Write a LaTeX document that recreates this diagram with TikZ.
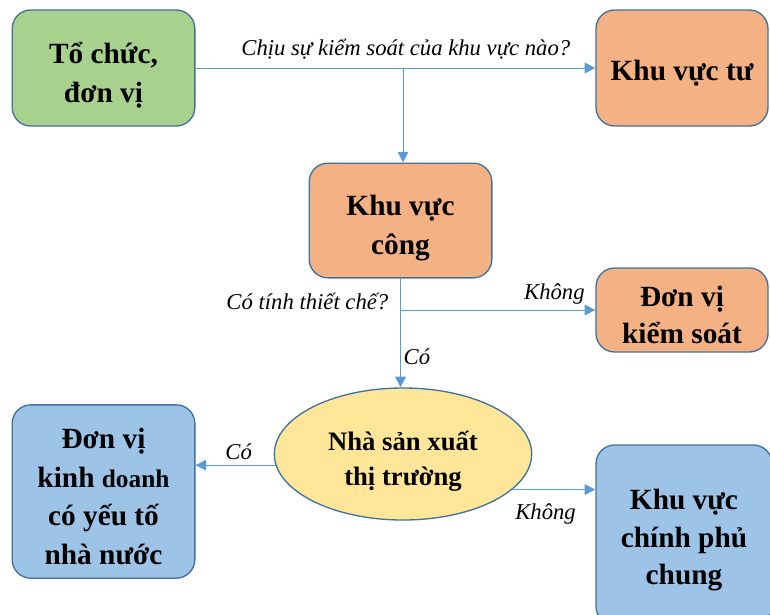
\documentclass[tikz,border=0pt]{standalone}
\usepackage{fontspec}
\setmainfont{Liberation Serif}
\usetikzlibrary{positioning,arrows.meta,shapes.geometric}
\definecolor{KvEdge}{HTML}{41719C}
\definecolor{KvLine}{HTML}{5B9BD5}
\definecolor{KvGreen}{HTML}{A9D18E}
\definecolor{KvOrange}{HTML}{F4B183}
\definecolor{KvYellow}{HTML}{FFE699}
\definecolor{KvBlue}{HTML}{9DC3E6}
\newcommand{\kvUp}[1]{\rule{0pt}{#1}}
\tikzset{
  kvBox/.style={draw=KvEdge, rounded corners=14pt, line width=1pt, align=center,
    inner sep=2pt, font=\fontsize{22}{29}\selectfont\bfseries},
  kvGreen/.style={kvBox, fill=KvGreen},
  kvOrange/.style={kvBox, fill=KvOrange},
  kvBlue/.style={kvBox, fill=KvBlue},
  kvLbl/.style={font=\fontsize{17}{20}\selectfont\itshape, inner sep=2pt},
}

\begin{document}
\begin{tikzpicture}[
  x=0.75pt, y=-0.75pt,
  arr/.style={-{Triangle[length=8pt, width=8pt]}, line width=0.75pt, draw=KvLine},
  dec/.style={ellipse, draw=KvEdge, fill=KvYellow, line width=1pt, align=center,
    inner sep=0pt, minimum width=193pt, minimum height=99pt,
    font=\fontsize{20}{26}\selectfont\bfseries},
]
  \useasboundingbox (0,0) rectangle (770,614);
  \clip (0,0) rectangle (770,614);

  \node[kvGreen, minimum width=137pt, minimum height=87pt] (tochuc) at (103.5,68) {\kvUp{27pt}Tổ chức,\\đơn vị};
  \node[kvOrange, minimum width=129pt, minimum height=87pt] (kvtu) at (682,68) {\kvUp{23pt}Khu vực tư};
  \node[kvOrange, minimum width=137pt, minimum height=86pt] (kvcong) at (400.5,220.5) {\kvUp{27pt}Khu vực\\công};
  \node[kvOrange, minimum width=129pt, minimum height=63pt, font=\fontsize{22}{28}\selectfont\bfseries] (dvks) at (682,310)
    {\kvUp{23pt}Đơn vị\\kiểm soát};
  \node[dec] (nsx) at (403,454) {\kvUp{25pt}Nhà sản xuất\\thị trường};
  \node[kvBlue, minimum width=137pt, minimum height=130pt] (dvkd) at (103.5,491.5)
    {\kvUp{23pt}Đơn vị\\kinh {\fontsize{19}{29}\selectfont doanh}\\có yếu tố\\nhà nước};
  \node[kvBlue, minimum width=132pt, minimum height=135pt, font=\fontsize{22}{28}\selectfont\bfseries] (kvcp) at (684,535)
    {\kvUp{23pt}Khu vực\\chính phủ\\chung};

  \coordinate (splitA) at (403,68);
  \coordinate (splitB) at (kvcong.south |- dvks.west);
  \coordinate (coL) at (nsx.185);
  \coordinate (coR) at (nsx.-18);

  \draw[arr] (tochuc) -- node[kvLbl, above, pos=0.526, yshift=4pt] {Chịu sự kiểm soát của khu vực nào?} (kvtu);
  \draw[arr] (splitA) -- (splitA |- kvcong.north);
  \draw[arr] (kvcong.south) -- node[kvLbl, right, pos=0.72] {Có} (kvcong.south |- nsx.north);
  \draw[arr] (splitB) -- node[kvLbl, above, pos=0.79, yshift=2pt] {Không} (dvks.west);
  \node[kvLbl, anchor=south east] (tinhtc) at ([xshift=-7pt, yshift=-2pt]splitB) {Có tính thiết chế?};
  \draw[arr] (coL) -- node[kvLbl, above, pos=0.46, yshift=2pt] {Có} (coL -| dvkd.east);
  \draw[arr] (coR) -- node[kvLbl, below, pos=0.4, yshift=-8pt] {Không} (coR -| kvcp.west);

\end{tikzpicture}
\end{document}
